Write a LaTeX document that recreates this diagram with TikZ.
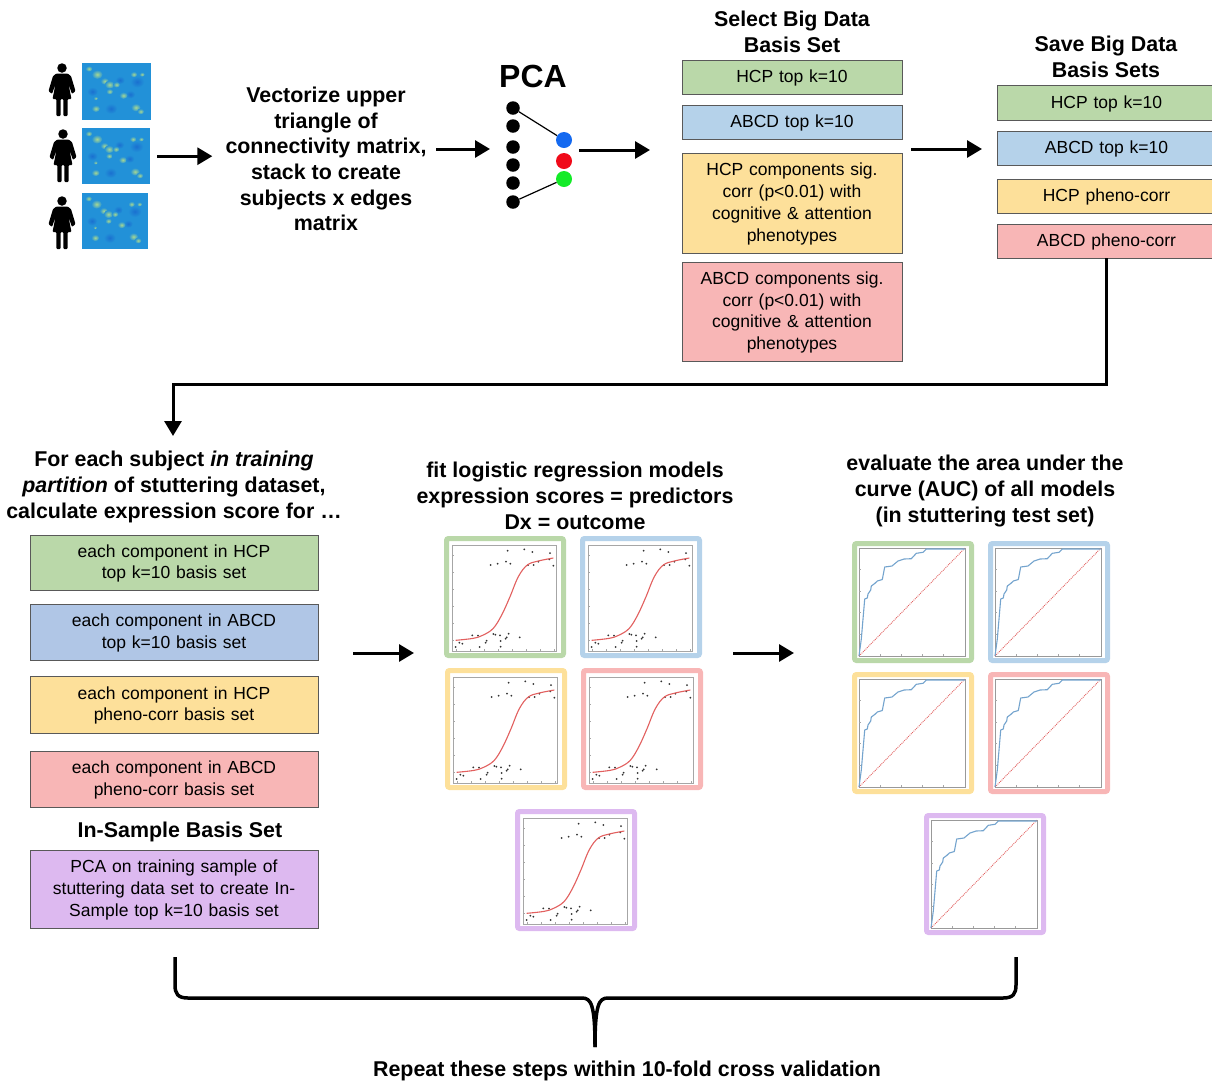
\documentclass[tikz,border=0pt]{standalone}
\usepackage{fontspec}
\setmainfont{Liberation Sans}
\usetikzlibrary{arrows.meta,calc}
\definecolor{cgreen}{HTML}{BAD8A9}
\definecolor{cblue}{HTML}{B5D2EA}
\definecolor{cyellow}{HTML}{FDE09A}
\definecolor{cred}{HTML}{F8B6B6}
\definecolor{cpurple}{HTML}{DDB9F0}
\definecolor{cbluedk}{HTML}{B0C6E6}
\definecolor{hm}{HTML}{2291D8}
\definecolor{hmlight}{HTML}{A8D890}
\definecolor{hmdark}{HTML}{1A70D0}
\definecolor{compb}{HTML}{1469F0}
\definecolor{compr}{HTML}{F00A19}
\definecolor{compg}{HTML}{14EB28}
\definecolor{rocline}{HTML}{74A4CE}
\definecolor{fitline}{HTML}{E2605F}
\tikzset{
  box/.style={draw=none,inner sep=0pt,align=center,font=\fontsize{17.5}{21.7}\selectfont,text width=#1},
  ttl/.style={align=center,font=\fontsize{21.4}{25.7}\selectfont\bfseries,inner sep=0pt},
  conn/.style={line width=3pt,-{Triangle[length=15pt,width=17pt]}},
  dotn/.style={circle,fill=black,inner sep=0pt,minimum size=13.5pt},
  comp/.style={circle,fill=#1,inner sep=0pt,minimum size=16pt},
  frame/.style={draw=#1,line width=5pt,rounded corners=2pt,fill=white,minimum width=117pt,minimum height=117pt,inner sep=0pt,outer sep=0pt,anchor=north west},
  heat/.style={fill=hm,inner sep=0pt,anchor=north west},
}
% rectangular box from corner coordinates
\newcommand{\bx}[7]{\path[fill=#2] (#3,#4) rectangle (#5,#6);
  \node[box=#5pt-#3pt-8pt] (#1) at ({(#3+#5)/2},{(#4+#6)/2+1}) {#7};
  \draw[black!65,line width=.7pt] (#3,#4) rectangle (#5,#6);}
% logistic regression panel
\newcommand{\logitplot}[4]{\begin{scope}[shift={(#2,#3)}]
  \node[frame=#4] (#1) at (2.5,2.5) {};
  \draw[black!35,line width=.6pt] (8,9) rectangle (112,115);
  \foreach \tx in {12,26,40,54,68,82,96,110}{\draw[black!35,line width=.4pt] (\tx,115) -- (\tx,113);}
  \foreach \ty in {104,87,70,53,36,19}{\draw[black!35,line width=.4pt] (8,\ty) -- (10,\ty);}
  \foreach \px/\py in {63.7/14.7,80.3/13.3,88.3/16,106/17,46.7/29,53.7/27.7,62/25.7,66.3/27.7,84/29,89.7/29,94.3/25.7,105.3/23.3,109.3/29.7,11.7/111,15.3/106.7,18.3/107.7,28.3/99.3,34/99.7,35.7/111,41.7/106.7,42.7/104.7,49.3/98,51.3/98.7,56/99.3,56.7/105,56.7/110.7,61.7/102.7,62.7/101.3,64.7/97.7,75.7/101.3}{\fill[black!80] (\px,\py) circle (1pt);}
  \draw[fitline,line width=1.1pt,line join=round] plot[smooth,tension=.6] coordinates {(11.7,104.3) (29.3,102.3) (39.3,99) (49.3,92.3) (57.7,79) (66,60.7) (74.3,40.7) (83.3,29) (94.3,25) (109.3,22)};
\end{scope}}
% ROC panel
\newcommand{\rocplot}[4]{\begin{scope}[shift={(#2,#3)}]
  \node[frame=#4] (#1) at (2.5,2.5) {};
  \draw[black!40,line width=.7pt] (7,7) rectangle (113,115);
  \foreach \tx in {28,49,70,91}{\draw[black!35,line width=.4pt] (\tx,115) -- (\tx,113);}
  \foreach \ty in {28,50,71,93}{\draw[black!35,line width=.4pt] (7,\ty) -- (9,\ty);}
  \draw[fitline,line width=.9pt,densely dotted] (7,115) -- (113,7);
  \draw[rocline,line width=1.1pt,line join=round] (7,115) -- (9.3,98) -- (12.7,58) -- (15.3,57) -- (16,53) -- (18.7,49) -- (19.3,45) -- (22.7,42.5) -- (25.3,40) -- (30.3,38.5) -- (32.7,26) -- (40,25) -- (46,20) -- (52,18) -- (59.3,17.7) -- (64.3,12.3) -- (71,11.3) -- (74.3,8) -- (113,8);
\end{scope}}
% person icon
\newcommand{\person}[3]{\begin{scope}[shift={(#2,#3)}]
  \node[circle,fill=black,inner sep=0pt,minimum size=9.5pt] (#1) at (0,5) {};
  \fill[black,rounded corners=1pt] (-5.5,10.5) -- (5.5,10.5) -- (9,13) -- (13.5,28) -- (10,31) -- (6.5,21) -- (9.5,36) -- (5.7,36) -- (5.7,53) -- (1.3,53) -- (1.3,36) -- (-1.3,36) -- (-1.3,53) -- (-5.7,53) -- (-5.7,36) -- (-9.5,36) -- (-6.5,21) -- (-10,31) -- (-13.5,28) -- (-9,13) -- cycle;
\end{scope}}
% heat map
\newcommand{\heatmap}[5]{\node[heat,minimum width=#4pt,minimum height=#5pt] (#1) at (#2,#3) {};
  \begin{scope}[shift={(#2,#3)},x=#4pt,y=-#5pt]
  \clip (0,0) rectangle (1,1);
  \foreach \ax/\ay/\ar in {.8/.33/.1,.42/.8/.09,.55/.3/.07,.15/.5/.08,.7/.55/.07}{\shade[inner color=hmdark,outer color=hm] (\ax,\ay) circle (\ar);}
  \foreach \ax/\ay/\ar in {.1/.1/.05,.22/.2/.08,.33/.32/.06,.4/.38/.07,.5/.38/.05,.4/.5/.05,.6/.57/.06,.2/.8/.06,.78/.78/.07,.85/.85/.05,.75/.2/.05,.87/.2/.04,.2/.62/.03}{\shade[inner color=hmlight,outer color=hm] (\ax,\ay) circle (\ar);}
  \end{scope}}
\begin{document}
\begin{tikzpicture}[x=1pt,y=-1pt]
\useasboundingbox (0,0) rectangle (1212,1080);
% persons + heat maps
\person{p1}{62}{63}\person{p2}{63}{129}\person{p3}{62}{196}
\heatmap{h1}{82}{63}{69}{57}
\heatmap{h2}{82}{128}{68}{56}
\heatmap{h3}{82}{193}{66}{56}
\node[ttl] (vec) at (326,159) {Vectorize upper\\triangle of\\connectivity matrix,\\stack to create\\subjects x edges\\matrix};
\draw[conn,shorten <=7pt,shorten >=13pt] (h2.east) -- (h2.east -| vec.west);
% PCA
\node[font=\fontsize{32}{36}\selectfont\bfseries,inner sep=0pt] (pca) at (533,76) {PCA};
\foreach \n/\yy in {1/108,2/126,3/147,4/165,5/183,6/202}{\node[dotn] (d\n) at (513,\yy) {};}
\node[comp=compb] (cb) at (564,140) {};
\node[comp=compr] (cr) at (564,161) {};
\node[comp=compg] (cg) at (564,179) {};
\draw[line width=1.2pt] (d1) -- (cb);
\draw[line width=1.2pt] (d6) -- (cg);
\coordinate (pcain) at (490,149);
\coordinate (vecout) at (436,149);
\draw[conn] (vecout) -- (pcain);
\coordinate (pcaout) at (579,150);
\coordinate (selin) at (650,150);
\draw[conn] (pcaout) -- (selin);
% Select column
\node[ttl] (sel) at (792,31.5) {Select Big Data\\Basis Set};
\bx{a1}{cgreen}{682}{60}{902}{94}{HCP top k=10}
\bx{a2}{cblue}{682}{105}{902}{139}{ABCD top k=10}
\bx{a3}{cyellow}{682}{153}{902}{253}{HCP components sig.\\corr (p<0.01) with\\cognitive \& attention\\phenotypes}
\bx{a4}{cred}{682}{262}{902}{361}{ABCD components sig.\\corr (p<0.01) with\\cognitive \& attention\\phenotypes}
% Save column
\node[ttl] (sav) at (1106,57) {Save Big Data\\Basis Sets};
\bx{b1}{cgreen}{997}{85}{1216}{120}{HCP top k=10}
\bx{b2}{cblue}{997}{131}{1216}{165}{ABCD top k=10}
\bx{b3}{cyellow}{997}{179}{1216}{213}{HCP pheno-corr}
\bx{b4}{cred}{997}{224}{1216}{258}{ABCD pheno-corr}
\coordinate (selout) at (911,149);
\coordinate (savin) at (982,149);
\draw[conn] (selout) -- (savin);
% Left column
\node[ttl] (fe) at (174,487) {For each subject \textit{in training}\\\textit{partition} of stuttering dataset,\\calculate expression score for \dots};
\coordinate (bend) at (173,384);
\coordinate (fetop) at (173,436);
\draw[conn] (b4.south |- 0,258) |- (bend) -- (fetop);
\bx{c1}{cgreen}{30}{535}{318}{590}{each component in HCP\\top k=10 basis set}
\bx{c2}{cbluedk}{30}{604}{318}{660}{each component in ABCD\\top k=10 basis set}
\bx{c3}{cyellow}{30}{676}{318}{733}{each component in HCP\\pheno-corr basis set}
\bx{c4}{cred}{30}{751}{318}{807}{each component in ABCD\\pheno-corr basis set}
\node[ttl] (ins) at (180,832) {In-Sample Basis Set};
\bx{c5}{cpurple}{30}{850}{318}{928}{PCA on training sample of\\stuttering data set to create In-\\Sample top k=10 basis set}
% Middle
\node[ttl] (fit) at (575,496) {fit logistic regression models\\expression scores = predictors\\Dx = outcome};
\logitplot{l1}{444}{536}{cgreen}
\logitplot{l2}{580}{536}{cblue}
\logitplot{l3}{445}{668}{cyellow}
\logitplot{l4}{581}{668}{cred}
\logitplot{l5}{515}{809}{cpurple}
\coordinate (m1) at (353,653);
\coordinate (m2) at (414,653);
\draw[conn] (m1) -- (m2);
% Right
\node[ttl] (ev) at (985,491) {evaluate the area under the\\curve (AUC) of all models\\(in stuttering test set)};
\rocplot{r1}{852}{541}{cgreen}
\rocplot{r2}{988}{541}{cblue}
\rocplot{r3}{852}{672}{cyellow}
\rocplot{r4}{988}{672}{cred}
\rocplot{r5}{924}{813}{cpurple}
\coordinate (m3) at (733,653);
\coordinate (m4) at (794,653);
\draw[conn] (m3) -- (m4);
% Brace
\coordinate (bl) at (175,957);
\coordinate (br) at (1016,957);
\coordinate (bs) at (595,1047);
\draw[line width=3.5pt,line join=round] (bl) -- (175,985) .. controls (175,994) and (178,998) .. (188,998) -- (582,998) .. controls (591,998) and (595,1004) .. (bs);
\draw[line width=3.5pt,line join=round] (br) -- (1016,985) .. controls (1016,994) and (1013,998) .. (1003,998) -- (608,998) .. controls (599,998) and (595,1004) .. (bs);
\node[font=\fontsize{21.4}{24}\selectfont\bfseries,inner sep=0pt] (rep) at (627,1071) {Repeat these steps within 10-fold cross validation};
\end{tikzpicture}
\end{document}
